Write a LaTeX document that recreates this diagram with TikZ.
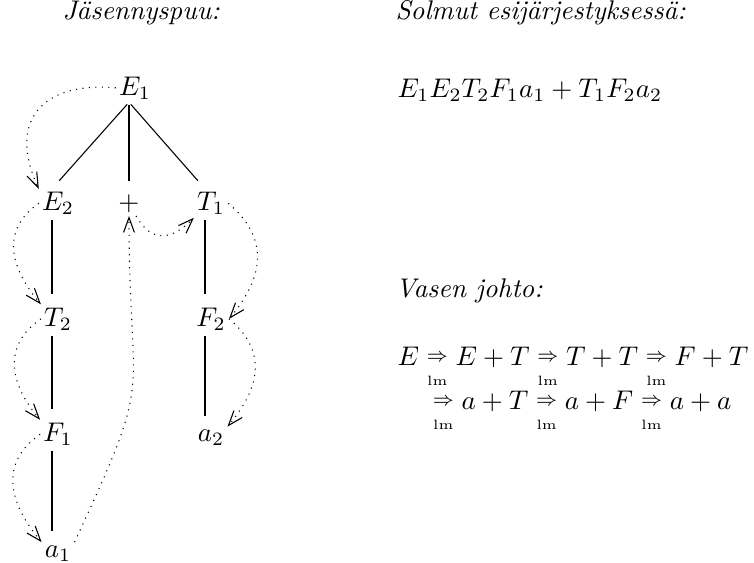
\documentclass[tikz,border=0pt]{standalone}
\usepackage{amsmath}
\usetikzlibrary{arrows.meta}
\newcommand{\lmto}{\mathrel{\mathop{\vcenter{\hbox{$\scriptstyle\Rightarrow$}}}\limits_{\rule{0pt}{7pt}\scriptscriptstyle\mathrm{lm}}}}
\begin{document}
\begin{tikzpicture}[x=0.013021cm, y=0.013021cm,
  tn/.style={anchor=base, xshift=2.25pt, inner sep=1pt},
  pn/.style={anchor=base, inner sep=1pt},
  txt/.style={anchor=base west, inner sep=0pt},
  tree/.style={shorten <=1pt, shorten >=4pt},
  trav/.style={dotted, -{Straight Barb[length=5.5pt,width=4pt]}, looseness=1.2}]
\useasboundingbox (0,0) rectangle (754,-563);
% headings
\node[txt] (h1) at (62,-19) {\textit{Jäsennyspuu:}};
\node[txt] (h2) at (395,-19) {\textit{Solmut esijärjestyksessä:}};
\node[txt] (pre) at (397,-97) {$E_1E_2T_2F_1a_1+T_1F_2a_2$};
\node[txt] (h3) at (395,-297) {\textit{Vasen johto:}};
\node[txt] (d1) at (397,-365) {$E \lmto E+T \lmto T+T \lmto F+T$};
\node[txt] (d2) at (432,-409) {$\lmto a+T \lmto a+F \lmto a+a$};
% tree nodes
\node[tn] (E1) at (129,-95) {$E_1$};
\node[tn] (E2) at (52,-210.5) {$E_2$};
\node[pn] (plus) at (129,-210.5) {$+$};
\node[tn] (T1) at (205,-210.5) {$T_1$};
\node[tn] (T2) at (52,-326) {$T_2$};
\node[tn] (F2) at (205,-326) {$F_2$};
\node[tn] (F1) at (52,-441.5) {$F_1$};
\node[tn] (a2) at (205,-441.5) {$a_2$};
\node[tn] (a1) at (52,-557) {$a_1$};
% tree edges
\draw[tree] ([xshift=-2.25pt]E1.south) -- ([xshift=-2.25pt]E2.north);
\draw[tree] ([xshift=-2.25pt]E1.south) -- (plus.north);
\draw[tree] ([xshift=-2.25pt]E1.south) -- ([xshift=-2.25pt]T1.north);
\draw[tree] ([xshift=-2.25pt]E2.south) -- ([xshift=-2.25pt]T2.north);
\draw[tree] ([xshift=-2.25pt]T2.south) -- ([xshift=-2.25pt]F1.north);
\draw[tree] ([xshift=-2.25pt]F1.south) -- ([xshift=-2.25pt]a1.north);
\draw[tree] ([xshift=-2.25pt]T1.south) -- ([xshift=-2.25pt]F2.north);
\draw[tree] ([xshift=-2.25pt]F2.south) -- ([xshift=-2.25pt]a2.north);
% traversal
\draw[trav] (E1.west) to[out=175,in=115,looseness=1.5] (E2.north west);
\draw[trav] (E2.west) to[out=215,in=130] (T2.north west);
\draw[trav] (T2.west) to[out=215,in=130] (F1.north west);
\draw[trav] (F1.west) to[out=215,in=130] (a1.north west);
\draw[trav] (a1.north east) to[out=65,in=-90,looseness=1.5] (plus.south);
\draw[trav] (plus.-60) to[out=-60,in=-135,looseness=1.4] (T1.south west);
\draw[trav] (T1.east) to[out=-40,in=50] (F2.east);
\draw[trav] (F2.east) to[out=-40,in=50] (a2.north east);
\end{tikzpicture}
\end{document}
